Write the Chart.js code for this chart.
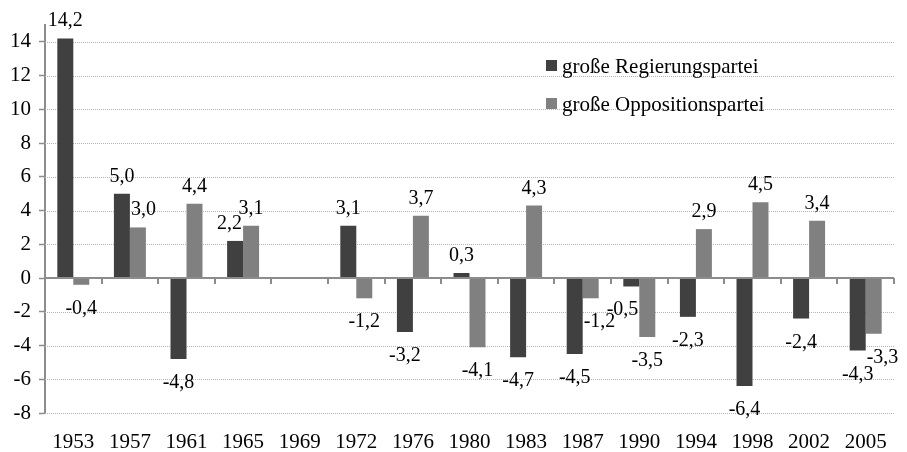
<!DOCTYPE html>
<html><head><meta charset="utf-8">
<script src="https://cdn.jsdelivr.net/npm/chart.js@4"></script>
<style>html,body{margin:0;padding:0;background:#fff}#w{width:907px;height:452px}</style>
</head><body><div id="w"><canvas id="c" width="907" height="452"></canvas></div>
<script>
const years = ['1953','1957','1961','1965','1969','1972','1976','1980','1983','1987','1990','1994','1998','2002','2005'];
const regierung = [14.2, 5.0, -4.8, 2.2, null, 3.1, -3.2, 0.3, -4.7, -4.5, -0.5, -2.3, -6.4, -2.4, -4.3];
const opposition = [-0.4, 3.0, 4.4, 3.1, null, -1.2, 3.7, -4.1, 4.3, -1.2, -3.5, 2.9, 4.5, 3.4, -3.3];
const yTicks = [-8, -6, -4, -2, 0, 2, 4, 6, 8, 10, 12, 14];
const seriesNames = ['große Regierungspartei', 'große Oppositionspartei'];
const FONT = '"Liberation Serif", "Times New Roman", serif';

const extras = {
  id: 'extras',
  beforeDatasetsDraw(chart) {
    const ctx = chart.ctx;
    const x = chart.scales.x, y = chart.scales.y;
    ctx.save();
    ctx.strokeStyle = '#b4b4b4';
    ctx.lineWidth = 1;
    ctx.setLineDash([1, 1]);
    yTicks.forEach(v => {
      if (v === 0) return;
      const py = Math.round(y.getPixelForValue(v)) + 0.5;
      ctx.beginPath(); ctx.moveTo(x.left, py); ctx.lineTo(x.right, py); ctx.stroke();
    });
    ctx.restore();
  },
  afterDatasetsDraw(chart) {
    const ctx = chart.ctx;
    const x = chart.scales.x, y = chart.scales.y;
    const y0 = Math.round(y.getPixelForValue(0));
    ctx.save();
    // zero line
    ctx.strokeStyle = '#8c8c8c';
    ctx.lineWidth = 2;
    ctx.beginPath();
    ctx.moveTo(x.left, y0); ctx.lineTo(x.right, y0); ctx.stroke();
    // tick marks at category boundaries
    const n = years.length;
    const w = (x.right - x.left) / n;
    for (let i = 1; i <= n; i++) {
      const px = Math.round(x.left + i * w);
      ctx.beginPath(); ctx.moveTo(px, y0); ctx.lineTo(px, y0 + 6); ctx.stroke();
    }
    // data labels, nudged sideways when they would cover the neighbouring bar
    ctx.fillStyle = '#000';
    ctx.font = '20px ' + FONT;
    ctx.textAlign = 'center';
    ctx.textBaseline = 'alphabetic';
    const metas = chart.data.datasets.map((ds, di) => chart.getDatasetMeta(di));
    chart.data.datasets.forEach((ds, di) => {
      metas[di].data.forEach((bar, i) => {
        const v = ds.data[i];
        if (v === null || v === undefined) return;
        const txt = v.toFixed(1).replace('.', ',');
        const tw = ctx.measureText(txt).width;
        const base = v >= 0 ? bar.y - 12 : bar.y + 29;
        let cx = bar.x;
        const top = base - 14, bottom = base + 4;
        metas.forEach((m, oi) => {
          if (oi === di) return;
          const ob = m.data[i];
          const ov = chart.data.datasets[oi].data[i];
          if (!ob || ov === null || ov === undefined) return;
          const oL = ob.x - ob.width / 2, oR = ob.x + ob.width / 2;
          const oT = Math.min(ob.y, ob.base), oB = Math.max(ob.y, ob.base);
          const lL = cx - tw / 2, lR = cx + tw / 2;
          if (lR > oL && lL < oR && bottom > oT && top < oB) {
            if (ob.x > bar.x) cx = oL - tw / 2 - 1;
            else cx = oR + tw / 2 + 1;
          }
        });
        ctx.fillText(txt, cx, base);
      });
    });
    // legend
    ctx.font = '21px ' + FONT;
    const lx = 546, ly = [60, 98];
    chart.data.datasets.forEach((ds, di) => {
      ctx.fillStyle = ds.backgroundColor;
      ctx.fillRect(lx, ly[di], 11, 11);
      ctx.fillStyle = '#000';
      ctx.textAlign = 'left';
      ctx.fillText(seriesNames[di], lx + 16, ly[di] + 13);
    });
    ctx.restore();
  }
};

new Chart(document.getElementById('c'), {
  type: 'bar',
  data: {
    labels: years,
    datasets: [
      { label: seriesNames[0], data: regierung, backgroundColor: '#404040', categoryPercentage: 0.565, barPercentage: 1.0 },
      { label: seriesNames[1], data: opposition, backgroundColor: '#808080', categoryPercentage: 0.565, barPercentage: 1.0 }
    ]
  },
  options: {
    responsive: false,
    animation: false,
    layout: { padding: { left: 0, right: 13, top: 25, bottom: 0 } },
    plugins: { legend: { display: false }, tooltip: { enabled: false } },
    scales: {
      x: {
        grid: { display: false },
        border: { display: false },
        ticks: { color: '#000', font: { family: FONT, size: 21 }, padding: 9, maxRotation: 0, autoSkip: false },
        afterFit(s) { s.height = 39; }
      },
      y: {
        min: -8, max: 15,
        afterBuildTicks(s) { s.ticks = yTicks.map(v => ({ value: v })); },
        ticks: { color: '#000', font: { family: FONT, size: 21 }, padding: 8 },
        grid: { drawOnChartArea: false, tickColor: '#8c8c8c', tickLength: 6, tickWidth: 1.5 },
        border: { display: true, color: '#8c8c8c', width: 2 },
        afterFit(s) { s.width = 45; }
      }
    }
  },
  plugins: [extras]
});
</script>
</body></html>
